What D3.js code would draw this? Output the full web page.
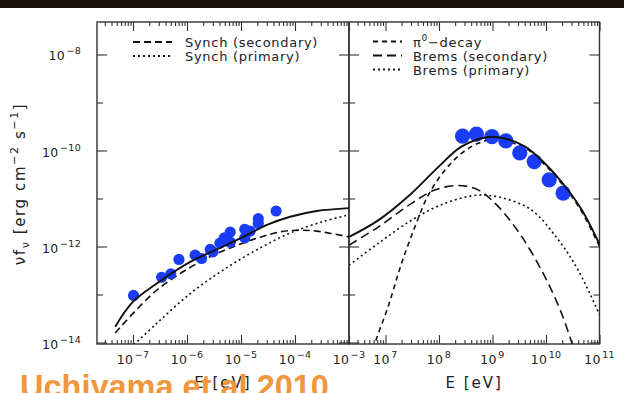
<!DOCTYPE html>
<html><head><meta charset="utf-8">
<script src="https://cdn.jsdelivr.net/npm/d3@7"></script>
<style>html,body{margin:0;padding:0;background:#fff;overflow:hidden;} svg{display:block;}</style>
</head><body>
<script>
// ---------- data (log10 of E [eV] and of nu f_nu [erg cm^-2 s^-1]) ----------
// Left panel: radio / synchrotron
const radioLogE = [-6.99,-6.47,-6.30,-6.15,-5.85,-5.73,-5.57,-5.52,-5.39,-5.31,-5.20,-5.20,-4.93,-4.93,-4.83,-4.68,-4.68,-4.35];
const radioLogF = [-13.02,-12.64,-12.57,-12.27,-12.18,-12.25,-12.06,-12.11,-11.93,-11.82,-11.70,-11.91,-11.64,-11.82,-11.68,-11.42,-11.52,-11.26];

const synchTotalLogE = [-7.33,-7.0,-6.56,-5.94,-5.33,-4.96,-4.52,-4.09,-3.60,-3.0];
const synchTotalLogF = [-13.67,-13.15,-12.77,-12.32,-12.0,-11.80,-11.55,-11.38,-11.26,-11.20];
const synchSecLogE = [-7.33,-6.56,-5.76,-5.20,-4.68,-4.25,-3.88,-3.60,-3.0];
const synchSecLogF = [-13.80,-12.91,-12.32,-12.03,-11.82,-11.69,-11.66,-11.68,-11.80];
const synchPrimLogE = [-7.05,-6.56,-5.94,-5.33,-4.71,-4.09,-3.48,-3.0];
const synchPrimLogF = [-14.12,-13.60,-12.98,-12.49,-12.07,-11.72,-11.48,-11.34];

// Right panel: gamma rays
const gammaLogE = [8.44,8.70,8.99,9.25,9.51,9.78,10.06,10.32];
const gammaLogF = [-9.70,-9.66,-9.71,-9.80,-10.05,-10.23,-10.61,-10.89];

const gammaTotalLogE = [6.318,6.87,7.49,7.99,8.42,8.92,9.23,9.61,9.98,10.36,10.67,11.0];
const gammaTotalLogF = [-11.80,-11.45,-10.89,-10.34,-9.92,-9.72,-9.75,-9.92,-10.27,-10.75,-11.24,-11.95];
const pi0LogE = [6.70,6.80,7.05,7.30,7.55,7.80,8.11,8.42,8.73,9.05,9.61,9.98,10.36,10.67,11.0];
const pi0LogF = [-14.5,-14.03,-13.25,-12.35,-11.59,-10.93,-10.41,-10.06,-9.85,-9.77,-9.95,-10.30,-10.78,-11.28,-12.0];
const bremsSecLogE = [6.318,6.87,7.49,7.93,8.36,8.73,9.11,9.55,9.98,10.29,10.49,10.6];
const bremsSecLogF = [-11.97,-11.59,-11.10,-10.82,-10.73,-10.82,-11.17,-11.80,-12.63,-13.39,-14.03,-14.4];
const bremsPrimLogE = [6.318,6.87,7.49,8.11,8.73,9.23,9.73,10.23,10.60,11.0];
const bremsPrimLogF = [-12.39,-11.93,-11.45,-11.10,-10.93,-11.0,-11.24,-11.86,-12.49,-13.42];

// axis tick labels
const yTickExps = [-14,-13,-12,-11,-10,-9,-8];
const yLabelExps = [-14,-12,-10,-8];
const leftXExps = [-7,-6,-5,-4,-3];
const rightXExps = [7,8,9,10,11];
const leftLegend = ["Synch (secondary)","Synch (primary)"];
const rightLegend = ["−decay","Brems (secondary)","Brems (primary)"];
const credit = "Uchiyama et al 2010";

// ---------- layout ----------
const W=624,H=393;
const pTop=22, pBottom=344;
const lx0=97, lx1=349, rx0=349, rx1=599.5;
const ink="#111", frame="#333";
const FONT="'DejaVu Sans', sans-serif";

const svg=d3.select("body").append("svg").attr("width",W).attr("height",H)
  .style("font-family",FONT);
svg.append("rect").attr("width",W).attr("height",H).attr("fill","#fff");
svg.append("rect").attr("x",0).attr("y",0).attr("width",W).attr("height",8).attr("fill","#1c110d");

const y = d3.scaleLog().domain([Math.pow(10,-14.031),Math.pow(10,-7.323)]).range([pBottom,pTop]);
const xL = d3.scaleLog().domain([Math.pow(10,-7.667),1e-3]).range([lx0,lx1]);
const xR = d3.scaleLog().domain([Math.pow(10,6.318),1e11]).range([rx0,rx1]);

const P = v => Math.pow(10,v);

function minorTicks(scale){
  const [a,b]=scale.domain(); const out=[];
  for(let d=Math.floor(Math.log10(a));d<=Math.ceil(Math.log10(b));d++){
    for(let k=2;k<=9;k++){const v=k*Math.pow(10,d); if(v>a*1.0001&&v<b*0.9999) out.push(v);}
  }
  return out;
}
function styleAxis(g){
  g.select(".domain").remove();
  g.selectAll(".tick line").attr("stroke",frame).attr("stroke-width",1.1);
}

function panel(x, x0, x1, majorExps, id){
  const g=svg.append("g");
  const majors=majorExps.map(P).filter(v=>v>=x.domain()[0]&&v<=x.domain()[1]*1.0001);
  const minors=minorTicks(x);
  [[d3.axisBottom,pBottom],[d3.axisTop,pTop]].forEach(([ax,yy])=>{
    g.append("g").attr("transform",`translate(0,${yy})`).call(ax(x).tickValues(majors).tickSize(-9).tickFormat("")).call(styleAxis);
    g.append("g").attr("transform",`translate(0,${yy})`).call(ax(x).tickValues(minors).tickSize(-4).tickFormat("")).call(styleAxis);
  });
  const yMaj=yLabelExps.map(P), yMin=yTickExps.filter(e=>!yLabelExps.includes(e)).map(P);
  [[d3.axisLeft,x0],[d3.axisRight,x1]].forEach(([ax,xx])=>{
    g.append("g").attr("transform",`translate(${xx},0)`).call(ax(y).tickValues(yMaj).tickSize(-10).tickFormat("")).call(styleAxis);
    g.append("g").attr("transform",`translate(${xx},0)`).call(ax(y).tickValues(yMin).tickSize(-6).tickFormat("")).call(styleAxis);
  });
  g.append("rect").attr("x",x0).attr("y",pTop).attr("width",x1-x0).attr("height",pBottom-pTop)
    .attr("fill","none").attr("stroke",frame).attr("stroke-width",1.4);
  svg.append("clipPath").attr("id",id).append("rect").attr("x",x0).attr("y",pTop).attr("width",x1-x0).attr("height",pBottom-pTop);
  majorExps.forEach(e=>{
    const t=svg.append("text").attr("x",x(P(e))).attr("y",364).attr("text-anchor","middle")
      .attr("font-size",12.5).attr("fill","#222").style("letter-spacing","0.3px");
    t.append("tspan").text("10");
    t.append("tspan").attr("dx",1.5).attr("dy",-6).attr("font-size",9.5).text(e<0?"−"+(-e):String(e));
  });
}
panel(xL,lx0,lx1,leftXExps,"clipL");
panel(xR,rx0,rx1,rightXExps,"clipR");

// y labels
yLabelExps.forEach(e=>{
  const t=svg.append("text").attr("x",81).attr("y",y(P(e))+6).attr("text-anchor","end")
    .attr("font-size",12.5).attr("fill","#222").style("letter-spacing","0.3px");
  t.append("tspan").text("10");
  t.append("tspan").attr("dx",1.5).attr("dy",-6).attr("font-size",9.5).text("−"+(-e));
});

// y title
{
  const t=svg.append("text").attr("transform","translate(25,184) rotate(-90)").attr("text-anchor","middle")
    .attr("font-size",15).attr("fill","#222").style("letter-spacing","1.6px");
  t.append("tspan").text("νf");
  t.append("tspan").attr("dy",4).attr("font-size",11).text("ν");
  t.append("tspan").attr("dy",-4).text(" [erg cm");
  t.append("tspan").attr("dy",-7).attr("font-size",11).text("−2");
  t.append("tspan").attr("dy",7).text(" s");
  t.append("tspan").attr("dy",-7).attr("font-size",11).text("−1");
  t.append("tspan").attr("dy",7).text("]");
}
// x titles
[(lx0+lx1)/2,(rx0+rx1)/2].forEach(cx=>{
  svg.append("text").attr("x",cx).attr("y",388).attr("text-anchor","middle").attr("font-size",15)
    .attr("fill","#222").style("letter-spacing","2px").text("E [eV]");
});

// curves
function curve(x, clip, le, lf, dash, w){
  const pts=le.map((e,i)=>[P(e),P(lf[i])]);
  svg.append("path").attr("clip-path",`url(#${clip})`)
    .attr("d",d3.line().x(d=>x(d[0])).y(d=>y(d[1])).curve(d3.curveCatmullRom.alpha(0.5))(pts))
    .attr("fill","none").attr("stroke",ink).attr("stroke-width",w).attr("stroke-dasharray",dash);
}
const DASH_SEC="7,4", DOT="2,3", DASH_PI="5,4", DASH_BS="9,5";
curve(xL,"clipL",synchPrimLogE,synchPrimLogF,DOT,1.6);
curve(xL,"clipL",synchSecLogE,synchSecLogF,DASH_SEC,1.6);
curve(xR,"clipR",bremsPrimLogE,bremsPrimLogF,DOT,1.6);
curve(xR,"clipR",bremsSecLogE,bremsSecLogF,DASH_BS,1.6);
curve(xR,"clipR",pi0LogE,pi0LogF,DASH_PI,1.6);

// data points
const blue="#1a3cf5";
svg.append("g").attr("clip-path","url(#clipL)").selectAll("circle").data(radioLogE).join("circle")
  .attr("cx",(d)=>xL(P(d))).attr("cy",(d,i)=>y(P(radioLogF[i]))).attr("r",5.6).attr("fill",blue);
svg.append("g").attr("clip-path","url(#clipR)").selectAll("circle").data(gammaLogE).join("circle")
  .attr("cx",(d)=>xR(P(d))).attr("cy",(d,i)=>y(P(gammaLogF[i]))).attr("r",7.6).attr("fill",blue);

curve(xL,"clipL",synchTotalLogE,synchTotalLogF,null,1.9);
curve(xR,"clipR",gammaTotalLogE,gammaTotalLogF,null,1.9);

// legends
function legendRow(x0,x1,tx,yy,dash,w){
  svg.append("line").attr("x1",x0).attr("x2",x1).attr("y1",yy).attr("y2",yy)
    .attr("stroke",ink).attr("stroke-width",w).attr("stroke-dasharray",dash);
  return svg.append("text").attr("x",tx).attr("y",yy+5).attr("font-size",13).attr("fill","#222").style("letter-spacing","0.7px");
}
legendRow(133,172,185,42,DASH_SEC,1.8).text(leftLegend[0]);
legendRow(133,172,185,56,DOT,1.8).text(leftLegend[1]);
{
  const t=legendRow(373,402,413,41.5,DASH_PI,1.8);
  t.append("tspan").text("π");
  t.append("tspan").attr("dy",-6).attr("font-size",9).text("0");
  t.append("tspan").attr("dy",6).text(rightLegend[0]);
}
legendRow(373,402,413,55.5,DASH_BS,1.8).text(rightLegend[1]);
legendRow(373,402,413,69.5,DOT,1.8).text(rightLegend[2]);

// credit
svg.append("text").attr("x",20).attr("y",398).attr("font-family","'Liberation Sans', Arial, sans-serif")
  .attr("font-weight","bold").attr("font-size",32.5).attr("fill","#f0963c").text(credit);
</script>
</body></html>
